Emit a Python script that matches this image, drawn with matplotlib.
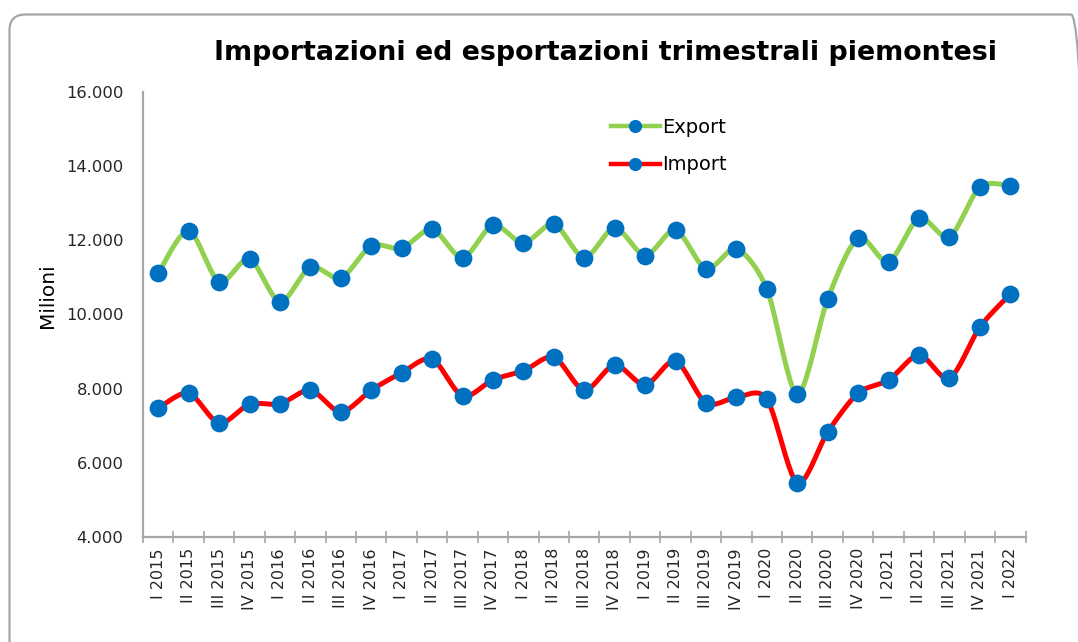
import numpy as np
import matplotlib
matplotlib.use("Agg")
import matplotlib.pyplot as plt
from matplotlib.patches import FancyBboxPatch
from matplotlib.lines import Line2D

quarters = ["I 2015", "II 2015", "III 2015", "IV 2015",
            "I 2016", "II 2016", "III 2016", "IV 2016",
            "I 2017", "II 2017", "III 2017", "IV 2017",
            "I 2018", "II 2018", "III 2018", "IV 2018",
            "I 2019", "II 2019", "III 2019", "IV 2019",
            "I 2020", "II 2020", "III 2020", "IV 2020",
            "I 2021", "II 2021", "III 2021", "IV 2021",
            "I 2022"]

export_vals = [11110, 12260, 10880, 11500, 10340, 11280, 10980, 11850,
               11790, 12300, 11530, 12410, 11930, 12440, 11530, 12340,
               11590, 12280, 11230, 11770, 10690, 7850, 10420, 12060,
               11420, 12600, 12090, 13440, 13470]

import_vals = [7470, 7880, 7070, 7580, 7590, 7960, 7370, 7960,
               8430, 8800, 7800, 8240, 8480, 8850, 7960, 8640,
               8100, 8750, 7610, 7770, 7720, 5460, 6830, 7880,
               8230, 8910, 8280, 9660, 10550]

title = "Importazioni ed esportazioni trimestrali piemontesi"
ylabel = "Milioni"
yticks = [4000, 6000, 8000, 10000, 12000, 14000, 16000]


def smooth(xs, ys, tension=1 / 7.0, n=24):
    """Excel-style smoothing (Catmull-Rom as cubic Bezier)."""
    P = np.column_stack([np.asarray(xs, float), np.asarray(ys, float)])
    out = []
    t = np.linspace(0, 1, n)[:, None]
    for i in range(len(P) - 1):
        p0 = P[i - 1] if i > 0 else P[i]
        p1 = P[i]
        p2 = P[i + 1]
        p3 = P[i + 2] if i + 2 < len(P) else P[i + 1]
        c1 = p1 + (p2 - p0) * tension
        c2 = p2 - (p3 - p1) * tension
        seg = (1 - t) ** 3 * p1 + 3 * (1 - t) ** 2 * t * c1 \
            + 3 * (1 - t) * t ** 2 * c2 + t ** 3 * p2
        out.append(seg if i == 0 else seg[1:])
    seg = np.vstack(out)
    return seg[:, 0], seg[:, 1]


W, H = 1078, 642
fig = plt.figure(figsize=(W / 100, H / 100), dpi=100)
fig.patch.set_facecolor("white")

# rounded chart border (pixel coordinates)
border = FancyBboxPatch((9.5, -14), 1087 - 9.5, (H - 14.5) + 14,
                        boxstyle="round,pad=0,rounding_size=16",
                        transform=None, facecolor="none",
                        edgecolor="#a6a6a6", linewidth=1.6, clip_on=False)
fig.patches.append(border)

left, right, top, bottom = 143, 1025.5, 92, 537
ax = fig.add_axes([left / W, 1 - bottom / H, (right - left) / W, (bottom - top) / H])

x = np.arange(len(quarters))
green = "#92D050"
red = "#FF0000"
blue = "#0070C0"

sx, sy = smooth(x, export_vals)
ax.plot(sx, sy, color=green, lw=3.6, solid_capstyle="round", zorder=2)
ax.plot(x, export_vals, ls="none", marker="o", ms=12.8, mew=0, color=blue, zorder=3)
sx, sy = smooth(x, import_vals)
ax.plot(sx, sy, color=red, lw=3.6, solid_capstyle="round", zorder=2)
ax.plot(x, import_vals, ls="none", marker="o", ms=12.8, mew=0, color=blue, zorder=3)

ax.set_xlim(-0.5, len(quarters) - 0.5)
ax.set_ylim(4000, 16000)
ax.set_yticks(yticks)
ax.set_yticklabels([f"{v:,}".replace(",", ".") for v in yticks], fontsize=11.8,
                   color="#262626")
ax.tick_params(axis="y", length=0, pad=14)

ax.set_xticks(x)
ax.set_xticklabels(quarters, rotation=90, fontsize=11.5, color="#262626")
ax.tick_params(axis="x", which="major", length=0, pad=8)
ax.set_xticks(np.arange(-0.5, len(quarters)), minor=True)
ax.tick_params(axis="x", which="minor", length=9, width=1.2, direction="inout",
               color="#a6a6a6")

for s in ["top", "right"]:
    ax.spines[s].set_visible(False)
for s in ["left", "bottom"]:
    ax.spines[s].set_color("#a6a6a6")
    ax.spines[s].set_linewidth(1.6)

ax.set_ylabel(ylabel, fontsize=14.5, color="#000000")
ax.yaxis.set_label_coords(-86 / (right - left), (537 - 296) / (bottom - top))

fig.text(605 / W, 1 - 53 / H, title, ha="center", va="center",
         fontsize=19.4, fontweight="bold", color="#000000")

handles = [Line2D([], [], color=green, lw=3.2, marker="o", ms=9.5, mew=0,
                  markerfacecolor=blue),
           Line2D([], [], color=red, lw=3.2, marker="o", ms=9.5, mew=0,
                  markerfacecolor=blue)]
leg = fig.legend(handles, ["Export", "Import"], loc="upper left",
                 bbox_to_anchor=(611 / W, 1 - 118 / H), frameon=False,
                 fontsize=14, handlelength=2.5, handletextpad=0.15,
                 labelspacing=0.95, borderaxespad=0, borderpad=0)

fig.savefig("out.png", dpi=100, facecolor="white")
